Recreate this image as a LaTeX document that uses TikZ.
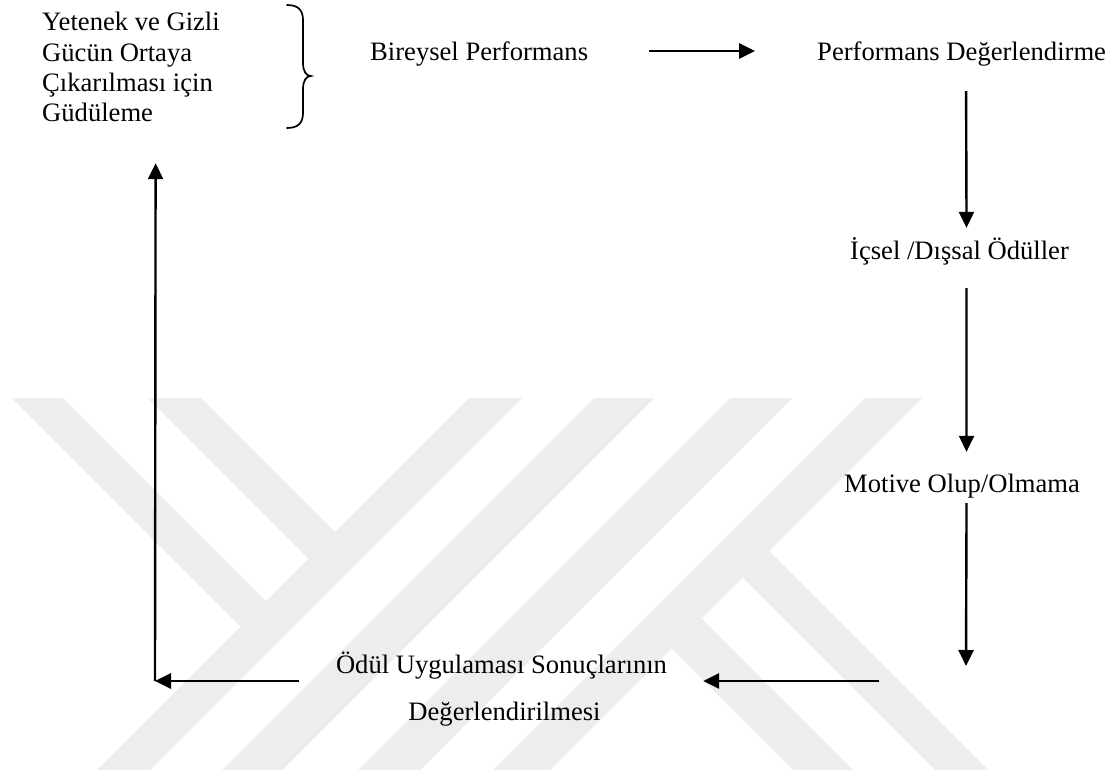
\documentclass[tikz,border=0pt]{standalone}
\usepackage{fontspec}
\setmainfont{Liberation Serif}
\usetikzlibrary{arrows.meta}
\begin{document}
\begin{tikzpicture}[x=1pt,y=-1pt,
  txt/.style={inner sep=0pt, font=\fontsize{26.6}{30.3}\selectfont, text height=18pt, text depth=6pt},
  harr/.style={line width=2.8pt, -{Triangle[length=16pt,width=15pt]}},
  varr/.style={line width=2.4pt, -{Triangle[length=16pt,width=15pt]}},
  wm/.style={fill={rgb,255:red,237;green,237;blue,237}, draw=none},
  bracestyle/.style={line width=1.7pt, line cap=round}]
\useasboundingbox (0,0) rectangle (1116,770);
\fill[white] (0,0) rectangle (1116,770);
% watermark
\fill[wm] (12,398) -- (63,398) -- (266,601) -- (240.5,626.5) -- cycle;
\fill[wm] (148,398) -- (201,398) -- (335,532) -- (308.5,558.5) -- cycle;
\fill[wm] (469,398) -- (522,398) -- (150,770) -- (97,770) -- cycle;
\fill[wm] (594,398) -- (654,398) -- (282,770) -- (222,770) -- cycle;
\fill[wm] (730,398) -- (792,398) -- (420,770) -- (358,770) -- cycle;
\fill[wm] (865,398) -- (922,398) -- (550,770) -- (493,770) -- cycle;
\fill[wm] (671.5,648.5) -- (701.5,618.5) -- (853,770) -- (793,770) -- cycle;
\fill[wm] (742.5,577.5) -- (769,551) -- (988,770) -- (935,770) -- cycle;
% texts
\node[txt, anchor=base west] (y1) at (42,31) {Yetenek ve Gizli};
\node[txt, anchor=base west] (y2) at (42,61.5) {Gücün Ortaya};
\node[txt, anchor=base west] (y3) at (42,91.5) {Çıkarılması için};
\node[txt, anchor=base west] (y4) at (42,122) {Güdüleme};
\node[txt, anchor=base west] (bp) at (370,61) {Bireysel Performans};
\node[txt, anchor=base west] (pd) at (817,61) {Performans Değerlendirme};
\node[txt, anchor=base west] (ic) at (850,259) {İçsel /Dışsal Ödüller};
\node[txt, anchor=base west] (mo) at (844,492) {Motive Olup/Olmama};
\node[txt, anchor=base] (ou1) at (501.5,673) {Ödül Uygulaması Sonuçlarının};
\node[txt, anchor=base] (ou2) at (504.5,720) {Değerlendirilmesi};
% brace
\draw[bracestyle] (287,5) .. controls (298,5) and (303,10) .. (303,20) -- (303,63)
  .. controls (303,71) and (306,76) .. (311,76)
  .. controls (306,76) and (303,81) .. (303,89) -- (303,113)
  .. controls (303,123) and (298,128) .. (287,128);
% coordinates
\coordinate (c3) at (966,666);
\coordinate (c4) at (879,681);
\coordinate (corner) at (155,681);
% connectors
\draw[harr] ([xshift=61pt,yshift=4pt]bp.east) -- ([xshift=-62pt,yshift=4pt]pd.west);
\draw[varr] ([xshift=4.5pt,yshift=-24pt]pd.south) -- ([xshift=7pt,yshift=13pt]ic.north);
\draw[varr] ([xshift=7pt,yshift=-23pt]ic.south) -- ([xshift=4.5pt,yshift=22pt]mo.north);
\draw[varr] ([xshift=4.5pt,yshift=-5pt]mo.south) -- (c3);
\draw[harr] (c4) -- ([xshift=36pt,yshift=-14pt]ou1.east);
\draw[harr] ([xshift=-37pt,yshift=-14pt]ou1.west) -- (corner);
\draw[varr] (corner) -- ([xshift=58pt,yshift=-35pt]y4.south);
\end{tikzpicture}
\end{document}
